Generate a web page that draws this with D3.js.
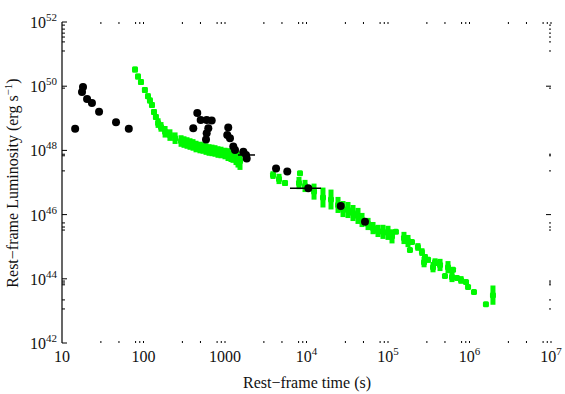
<!DOCTYPE html>
<html>
<head>
<meta charset="utf-8">
<script src="https://cdn.jsdelivr.net/npm/d3@7/dist/d3.min.js"></script>
<style>
  body { margin: 0; background: white; }
  svg text { font-family: "Liberation Serif", "DejaVu Serif", serif; fill: #111; }
</style>
</head>
<body>
<svg id="lum-svg" width="565" height="394"></svg>
<script>
// Green data (rest-frame time s, luminosity erg/s, error in dex)
var greenT = [78.7, 85.6, 93.1, 104, 113.5, 120, 127, 134.5, 142, 151, 164, 184, 211, 244, 289, 314, 342, 372, 405, 441,
              493, 537, 585, 637, 693, 754, 820, 893, 1000, 1089, 1185, 1253, 1365, 1444, 1528,
              3880, 4600, 5450, 8320, 8090, 9590, 12370, 15930, 19980, 24360, 28050, 32300, 37200, 42850, 48000,
              56900, 65500, 75400, 86800, 100000, 112000, 125000, 157000, 176000, 197000, 186000, 233000, 261000,
              284000, 310000, 277000, 378000, 357000, 435000, 545000, 628000, 500000, 610000, 703000, 787000,
              906000, 960000, 1135000, 1590000, 1940000];
var greenL = [3.3e50, 2.0e50, 1.35e50, 7.6e49, 4.9e49, 3.6e49, 2.6e49, 1.58e49, 1.1e49, 7.1e48, 5.4e48, 3.8e48, 3.0e48,
              2.4e48, 1.96e48, 1.82e48, 1.7e48, 1.58e48, 1.48e48, 1.32e48, 1.23e48, 1.19e48, 1.1e48, 1.03e48, 1.0e48,
              9.6e47, 8.9e47, 8.6e47, 8.0e47, 7.4e47, 6.9e47, 6.5e47, 5.8e47, 5.2e47, 4.7e47,
              1.7e47, 1.29e47, 9.6e46, 1.94e47, 9.6e46, 7.8e46, 5.2e46, 3.4e46, 2.95e46, 2.0e46, 1.49e46, 1.39e46,
              1.12e46, 9.1e45, 6.8e45, 5.1e45, 3.8e45, 3.1e45, 2.9e45, 2.7e45, 2.1e45, 2.9e45, 1.87e45, 1.5e45,
              1.4e45, 7.9e44, 9.8e44, 6.8e44, 4.8e44, 3.9e44, 3.3e44, 3.3e44, 2.3e44, 2.7e44, 2.3e44, 1.9e44,
              1.22e44, 1.14e44, 1.06e44, 9.2e43, 7.9e43, 5.6e43, 3.9e43, 1.6e43, 3.1e43];
var greenErr = [0.09, 0.09, 0.09, 0.09, 0.09, 0.09, 0.09, 0.09, 0.09, 0.15, 0.15, 0.18, 0.18, 0.18, 0.18, 0.18, 0.18,
                0.18, 0.18, 0.18, 0.18, 0.18, 0.18, 0.18, 0.18, 0.18, 0.18, 0.18, 0.18, 0.2, 0.2, 0.2, 0.22, 0.25, 0.28,
                0.12, 0.16, 0.09, 0.06, 0.19, 0.19, 0.25, 0.31, 0.31, 0.25, 0.25, 0.25, 0.25, 0.25, 0.22,
                0.19, 0.19, 0.19, 0.22, 0.22, 0.22, 0.06, 0.19, 0.19, 0.06, 0.06, 0.12, 0.12,
                0.09, 0.09, 0.16, 0.12, 0.16, 0.19, 0.19, 0.06, 0.06, 0.16, 0.06, 0.12,
                0.06, 0.06, 0.06, 0.06, 0.3];

// Black data
var blackT = [14.5, 17.6, 18.1, 20.3, 23.3, 28.5, 46, 66, 457, 408, 503, 596, 687, 624, 585, 596, 1096, 1066, 1151,
              1264, 1327, 1811, 1680, 1846, 4230, 5810, 10520, 26300, 52200];
var blackL = [4.7e48, 6.6e49, 9.5e49, 4.0e49, 3.0e49, 1.6e49, 7.6e48, 4.7e48, 1.45e49, 4.9e48, 8.9e48, 8.9e48, 8.5e48,
              4.9e48, 2.2e48, 3.4e48, 5.2e48, 3.0e48, 2.4e48, 1.32e48, 1.02e48, 7.2e47, 9.1e47, 5.6e47, 2.75e47,
              2.2e47, 6.6e46, 1.86e46, 6.0e45];
var blackTLo = [null, null, null, null, null, null, null, null, null, null, null, null, null, null, null, null, null,
                null, null, null, null, 1444, null, null, null, null, 6270, null, null];
var blackTHi = [null, null, null, null, null, null, null, null, null, null, null, null, null, null, null, null, null,
                null, null, null, null, 2335, null, null, null, null, 15070, null, null];

// Ticks
var xMajor = [10, 100, 1000, 1e4, 1e5, 1e6, 1e7];
var xLabels = [["10", ""], ["100", ""], ["1000", ""], ["10", "4"], ["10", "5"], ["10", "6"], ["10", "7"]];
var xMinorMult = [3, 5, 8, 9];
var yMajor = [1e42, 1e44, 1e46, 1e48, 1e50, 1e52];
var yLabels = ["42", "44", "46", "48", "50", "52"];
var yMinor = [8e51, 6e51, 4.5e51, 3.4e51, 2.4e51, 1.25e51, 8.7e49, 7.6e47, 6.8e47, 2.3e47, 5.5e45, 4.1e45, 3.3e45,
              8.5e43, 7.4e43, 6.5e43, 2.2e43, 1.15e43];

var svg = d3.select("#lum-svg");
var green = "#00f800";

var x = d3.scaleLog().domain([10, 1e7]).range([62, 551]);
var y = d3.scaleLog().domain([1e42, 1e52]).range([343, 22]);

var xMinor = [];
xMajor.slice(0, -1).forEach(function(d) {
  xMinorMult.forEach(function(m) { xMinor.push(d * m); });
});

// Left axis line
svg.append("line")
   .attr("x1", x(10)).attr("x2", x(10))
   .attr("y1", y(1e52)).attr("y2", y(1e42))
   .style("stroke", "black").style("stroke-width", 1.2);

// Y ticks, left and right
svg.selectAll(".ymaj")
   .data(yMajor).enter().append("line")
   .attr("x1", x(10)).attr("x2", x(10) + 5)
   .attr("y1", function(d) { return y(d); }).attr("y2", function(d) { return y(d); })
   .style("stroke", "black");
svg.selectAll(".ymin")
   .data(yMinor).enter().append("line")
   .attr("x1", x(10)).attr("x2", x(10) + 3)
   .attr("y1", function(d) { return y(d); }).attr("y2", function(d) { return y(d); })
   .style("stroke", "black");
svg.selectAll(".ymajR")
   .data([1e50, 1e46]).enter().append("line")
   .attr("x1", x(1e7) - 5).attr("x2", x(1e7))
   .attr("y1", function(d) { return y(d); }).attr("y2", function(d) { return y(d); })
   .style("stroke", "black");
svg.selectAll(".yminR")
   .data(yMinor).enter().append("line")
   .attr("x1", x(1e7) - 2).attr("x2", x(1e7))
   .attr("y1", function(d) { return y(d); }).attr("y2", function(d) { return y(d); })
   .style("stroke", "black");

// X ticks, bottom and top
[y(1e42), y(1e52)].forEach(function(yy, k) {
  var dir = k == 0 ? -1 : 1;
  svg.selectAll(".xmin" + k)
     .data(xMinor).enter().append("line")
     .attr("x1", function(d) { return x(d); }).attr("x2", function(d) { return x(d); })
     .attr("y1", yy).attr("y2", yy + dir * 2)
     .style("stroke", "black");
  svg.selectAll(".xmaj" + k)
     .data(xMajor.slice(1)).enter().append("line")
     .attr("x1", function(d) { return x(d); }).attr("x2", function(d) { return x(d); })
     .attr("y1", yy).attr("y2", yy + dir * 2)
     .style("stroke", "black");
});

// Y tick labels
var yl = svg.selectAll(".ylab")
   .data(yMajor).enter().append("text")
   .attr("x", x(10) - 5)
   .attr("y", function(d) { return y(d) + 6; })
   .attr("text-anchor", "end")
   .style("font-size", "16px");
yl.append("tspan").text("10");
yl.append("tspan").attr("dy", -7).style("font-size", "11px")
  .text(function(d, i) { return yLabels[i]; });

// X tick labels
var xl = svg.selectAll(".xlab")
   .data(xMajor).enter().append("text")
   .attr("x", function(d) { return x(d); })
   .attr("y", 362)
   .attr("text-anchor", "middle")
   .style("font-size", "16px");
xl.append("tspan").text(function(d, i) { return xLabels[i][0]; });
xl.append("tspan").attr("dy", -7).style("font-size", "11px")
  .text(function(d, i) { return xLabels[i][1]; });

// Axis titles
svg.append("text")
   .attr("x", 307).attr("y", 388)
   .attr("text-anchor", "middle")
   .style("font-size", "16px")
   .text("Rest\u2212frame time (s)");

var ytitle = svg.append("text")
   .attr("transform", "translate(18,183) rotate(-90)")
   .attr("text-anchor", "middle")
   .style("font-size", "16px");
ytitle.append("tspan").text("Rest\u2212frame Luminosity (erg s");
ytitle.append("tspan").attr("dy", -6).style("font-size", "11px").text("\u22121");
ytitle.append("tspan").attr("dy", 6).text(")");

// Green points with error bars
var gIdx = d3.range(greenT.length);
svg.selectAll(".gerr")
   .data(gIdx).enter().append("rect")
   .attr("x", function(i) { return x(greenT[i]) - 2.5; })
   .attr("width", 5)
   .attr("y", function(i) { return y(greenL[i] * Math.pow(10, greenErr[i])); })
   .attr("height", function(i) {
     return y(greenL[i] / Math.pow(10, greenErr[i])) - y(greenL[i] * Math.pow(10, greenErr[i]));
   })
   .style("fill", green);
svg.selectAll(".gpt")
   .data(gIdx).enter().append("rect")
   .attr("x", function(i) { return x(greenT[i]) - 3; })
   .attr("y", function(i) { return y(greenL[i]) - 3; })
   .attr("width", 6).attr("height", 6)
   .attr("rx", 1.5)
   .style("fill", green);

// Black points
var bIdx = d3.range(blackT.length);
svg.selectAll(".berr")
   .data(bIdx.filter(function(i) { return blackTLo[i] != null; })).enter().append("line")
   .attr("x1", function(i) { return x(blackTLo[i]); })
   .attr("x2", function(i) { return x(blackTHi[i]); })
   .attr("y1", function(i) { return y(blackL[i]); })
   .attr("y2", function(i) { return y(blackL[i]); })
   .style("stroke", "black").style("stroke-width", 1.5);
svg.selectAll(".bpt")
   .data(bIdx).enter().append("circle")
   .attr("cx", function(i) { return x(blackT[i]); })
   .attr("cy", function(i) { return y(blackL[i]); })
   .attr("r", 4)
   .style("fill", "black");
</script>
</body>
</html>
